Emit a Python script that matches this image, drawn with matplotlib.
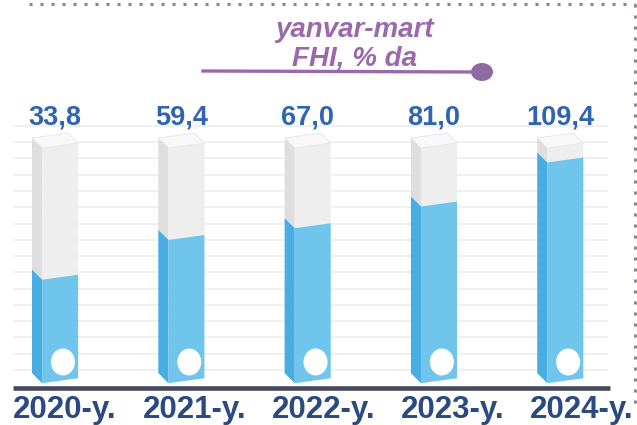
import numpy as np
import matplotlib
matplotlib.use("Agg")
import matplotlib.pyplot as plt
from matplotlib.patches import Polygon, Ellipse
from matplotlib.lines import Line2D

years = ["2020-y.", "2021-y.", "2022-y.", "2023-y.", "2024-y."]
values = [33.8, 59.4, 67.0, 81.0, 109.4]
value_labels = ["33,8", "59,4", "67,0", "81,0", "109,4"]
title_text = "yanvar-mart\nFHI, % da"

# styling (data units of the drawing axes)
BAR_TOP = 118.7
BAR_BOTTOM = -33.0
DIP = 6.5          # front-left edge sits lower than back-left
RISE = 3.2         # front-right edge rises from the corner
SIDE_W = 0.08
FRONT_W = 0.285
HALF_W = 0.182

BLUE_SIDE = "#47ade2"
BLUE_FRONT = "#6fc5ec"
GRAY_SIDE = "#dedede"
GRAY_FRONT = "#eeeeee"
GRAY_CAP = "#f8f8f8"
PURPLE = "#9a69ab"

plt.rcParams["font.family"] = ["Liberation Sans", "DejaVu Sans"]


def faces(x0, lo, hi):
    x1 = x0 + SIDE_W
    x2 = x1 + FRONT_W
    side = [(x0, lo), (x0, hi), (x1, hi - DIP), (x1, lo - DIP)]
    front = [(x1, lo - DIP), (x1, hi - DIP), (x2, hi - DIP + RISE), (x2, lo - DIP + RISE)]
    return side, front


def draw_bar(ax, i, v):
    x0 = i - HALF_W
    # gray empty part
    side, front = faces(x0, v, BAR_TOP)
    ax.add_patch(Polygon(side, closed=True, fc=GRAY_SIDE, ec="none"))
    ax.add_patch(Polygon(front, closed=True, fc=GRAY_FRONT, ec="none"))
    x1 = x0 + SIDE_W
    x2 = x1 + FRONT_W
    cap = [(x0, BAR_TOP), (x1, BAR_TOP - DIP), (x2, BAR_TOP - DIP + RISE), (x0 + FRONT_W, BAR_TOP + RISE)]
    ax.add_patch(Polygon(cap, closed=True, fc=GRAY_CAP, ec="#e6e6e6", lw=0.6))
    # blue filled part
    side, front = faces(x0, BAR_BOTTOM, v)
    ax.add_patch(Polygon(side, closed=True, fc=BLUE_SIDE, ec="none"))
    ax.add_patch(Polygon(front, closed=True, fc=BLUE_FRONT, ec="none"))
    ax.add_patch(Ellipse((i + 0.063, -25.8), 0.19, 17.4, fc="white", ec="none"))


def main():
    fig = plt.figure(figsize=(6.37, 4.25), dpi=100)
    ax = fig.add_axes([0, 0, 1, 1])
    ax.set_xlim(-0.4355, 4.608)
    ax.set_ylim(-66.45, 207.7)
    ax.axis("off")

    # light grid lines
    for y in np.arange(-31, 137, 10.5):
        ax.hlines(y, -0.333, 4.378, color="#ededed", lw=1.2, zorder=0)

    for i, v in enumerate(values):
        draw_bar(ax, i, v)
        ax.text(i, 127.1, value_labels[i], ha="center", va="baseline",
                fontsize=19.5, fontweight="bold", color="#2f64b2")
        # year labels sit a little wider apart than the bars
        ax.text(i * 1.022 + 0.08, -61.9, years[i], ha="center", va="baseline",
                fontsize=22.5, fontweight="bold", color="#2b4a7f")

    # base line
    ax.hlines(-42.6, -0.333, 4.394, color="#464a5c", lw=3.3, zorder=5)

    # title with underline and dot
    fig.text(354 / 637, 1 - 66 / 425, title_text, ha="center", va="baseline",
             fontsize=20, fontweight="bold", style="italic", color=PURPLE,
             linespacing=1.15)
    fig.add_artist(Line2D([203 / 637, 478 / 637], [1 - 71 / 425, 1 - 72 / 425],
                          color=PURPLE, lw=2.4))
    fig.add_artist(Ellipse((482 / 637, 1 - 72 / 425), 22 / 637, 18 / 425,
                           transform=fig.transFigure, fc="#8d6a9f", ec="none"))

    # dotted frame, top and right
    fig.add_artist(Line2D([29 / 637, 635 / 637], [1 - 4 / 425, 1 - 4 / 425],
                          color="#8a8296", lw=2.2, linestyle=(0, (1, 2.6))))
    fig.add_artist(Line2D([635 / 637, 635 / 637], [1 - 4 / 425, 1 - 405 / 425],
                          color="#8a8296", lw=2.2, linestyle=(0, (1, 2.6))))

    fig.savefig("out.png", dpi=100, facecolor="white")


if __name__ == '__main__':
    main()
